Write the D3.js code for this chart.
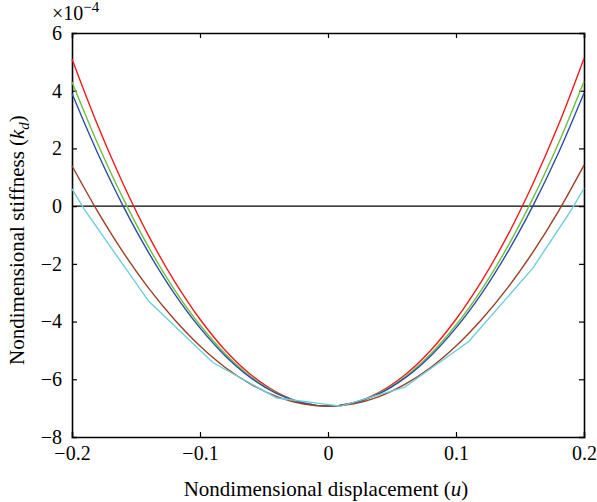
<!DOCTYPE html>
<html>
<head>
<meta charset="utf-8">
<script src="https://cdn.jsdelivr.net/npm/d3@7"></script>
<style>
body { margin: 0; background: #fff; }
text { font-family: "Liberation Serif", "DejaVu Serif", serif; fill: #000; }
</style>
</head>
<body>
<script>
// x positions (nondimensional displacement u)
var uSmooth = [-0.2, -0.18, -0.16, -0.14, -0.12, -0.1, -0.08, -0.06, -0.04, -0.02, 0,
	0.02, 0.04, 0.06, 0.08, 0.1, 0.12, 0.14, 0.16, 0.18, 0.2];
// stiffness values, units of 1e-4
var redVals = [5.10, 2.81, 0.77, -1.04, -2.60, -3.92, -5.01, -5.85, -6.45, -6.81, -6.93,
	-6.81, -6.45, -5.85, -5.01, -3.92, -2.60, -1.04, 0.77, 2.81, 5.12];
var greenVals = [4.30, 2.17, 0.26, -1.43, -2.89, -4.12, -5.13, -5.92, -6.48, -6.82, -6.93,
	-6.82, -6.48, -5.92, -5.13, -4.12, -2.89, -1.43, 0.26, 2.17, 4.32];
var blueVals = [3.90, 1.84, 0.00, -1.62, -3.03, -4.22, -5.20, -5.96, -6.50, -6.82, -6.93,
	-6.82, -6.50, -5.96, -5.20, -4.22, -3.03, -1.62, 0.00, 1.84, 3.92];
var brownVals = [1.40, -0.18, -1.60, -2.85, -3.93, -4.85, -5.60, -6.18, -6.60, -6.85, -6.93,
	-6.85, -6.60, -6.18, -5.60, -4.85, -3.93, -2.85, -1.60, -0.18, 1.42];
// coarser series
var uCyan = [-0.2, -0.19, -0.14, -0.09, -0.04, 0.01, 0.06, 0.11, 0.16, 0.19, 0.2];
var cyanVals = [0.60, -0.14, -3.30, -5.42, -6.65, -6.93, -6.27, -4.69, -2.15, -0.14, 0.62];

var xTicks = [-0.2, -0.1, 0, 0.1, 0.2];
var yTicks = [-8, -6, -4, -2, 0, 2, 4, 6];

var series = [
	{ u: uSmooth, k: redVals, color: "#f01c1c", smooth: true },
	{ u: uSmooth, k: greenVals, color: "#6cc040", smooth: true },
	{ u: uSmooth, k: blueVals, color: "#2c4ea6", smooth: true },
	{ u: uSmooth, k: brownVals, color: "#9a4025", smooth: true },
	{ u: uCyan, k: cyanVals, color: "#6ccfdc", smooth: false }
];

var W = 597, H = 502;
var margin = { top: 33, right: 13, bottom: 65, left: 72 },
	width = W - margin.left - margin.right,
	height = H - margin.top - margin.bottom;

var svg = d3.select("body").append("svg")
	.attr("width", W)
	.attr("height", H),
	g = svg.append("g")
	.attr("transform", "translate(" + margin.left + "," + margin.top + ")");

var x = d3.scaleLinear().domain([-0.2, 0.2]).range([0, width]);
var y = d3.scaleLinear().domain([-8, 6]).range([height, 0]);

function fmt(v) {
	return d3.format("")(v).replace("-", "\u2212");
}

// axes, ticks pointing inward on all four sides
var tl = 5;
g.append("g").attr("transform", "translate(0," + height + ")")
	.call(d3.axisBottom(x).tickValues(xTicks).tickSize(-tl).tickPadding(9).tickFormat(fmt));
g.append("g")
	.call(d3.axisTop(x).tickValues(xTicks).tickSize(-tl).tickFormat(""));
g.append("g")
	.call(d3.axisLeft(y).tickValues(yTicks).tickSize(-tl).tickPadding(10).tickFormat(fmt));
g.append("g").attr("transform", "translate(" + width + ",0)")
	.call(d3.axisRight(y).tickValues(yTicks).tickSize(-tl).tickFormat(""));

g.selectAll(".domain").attr("stroke", "#000").attr("stroke-width", 1.6);
g.selectAll(".tick line").attr("stroke", "#000").attr("stroke-width", 1.2);
g.selectAll(".tick text").style("font-size", "20px").attr("fill", "#000");
// hide the edge ticks that overlap the frame
g.selectAll(".tick line").filter(function(d) { return d === -8 || d === 6 || d === -0.2 || d === 0.2; })
	.attr("stroke", "none");

// zero line
g.append("line")
	.attr("x1", 0).attr("x2", width)
	.attr("y1", y(0)).attr("y2", y(0))
	.attr("stroke", "#000").attr("stroke-width", 1.4);

// curves
series.forEach(function(s) {
	var pts = s.u.map(function(u, i) { return [u, s.k[i]]; });
	var line = d3.line()
		.x(function(d) { return x(d[0]); })
		.y(function(d) { return y(d[1]); })
		.curve(s.smooth ? d3.curveCatmullRom : d3.curveLinear);
	g.append("path")
		.datum(pts)
		.attr("fill", "none")
		.attr("stroke", s.color)
		.attr("stroke-width", 1.4)
		.attr("d", line);
});

// exponent label
var ex = svg.append("text")
	.attr("x", 52).attr("y", 20)
	.style("font-size", "20px");
ex.append("tspan").text("\u00d710");
ex.append("tspan").attr("dy", -8).style("font-size", "15px").text("\u22124");

// x axis title
var xt = svg.append("text")
	.attr("x", 326).attr("y", 496)
	.attr("text-anchor", "middle")
	.style("font-size", "21px");
xt.append("tspan").text("Nondimensional displacement (");
xt.append("tspan").style("font-style", "italic").text("u");
xt.append("tspan").text(")");

// y axis title
var yt = svg.append("text")
	.attr("transform", "translate(24,240) rotate(-90)")
	.attr("text-anchor", "middle")
	.style("font-size", "21px");
yt.append("tspan").text("Nondimensional stiffness (");
yt.append("tspan").style("font-style", "italic").text("k");
yt.append("tspan").style("font-style", "italic").style("font-size", "15px").attr("dy", 5).text("d");
yt.append("tspan").attr("dy", -5).text(")");
</script>
</body>
</html>
